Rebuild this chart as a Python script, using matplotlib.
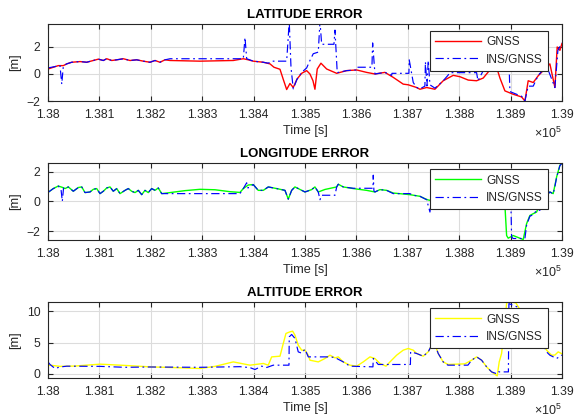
import matplotlib
matplotlib.use("Agg")
import matplotlib.pyplot as plt
from matplotlib.ticker import FuncFormatter, MultipleLocator

plt.rcParams['font.family'] = ['Liberation Sans', 'DejaVu Sans']

# ---------------- data (time in seconds, errors in metres) ----------------
t_lat_gnss = [138000.0, 138010.3, 138020.0, 138029.8, 138036.4, 138046.1, 138062.3, 138075.3,
              138088.1, 138097.9, 138107.6, 138114.2, 138123.9, 138133.7, 138146.5, 138159.5,
              138172.6, 138185.4, 138198.4, 138208.2, 138217.9, 138227.6, 138237.4, 138295.7,
              138360.5, 138380.0, 138389.7, 138399.4, 138418.9, 138431.9, 138439.7, 138451.4,
              138457.8, 138464.4, 138470.8, 138477.2, 138484.4, 138493.6, 138503.3, 138509.7,
              138515.6, 138519.4, 138523.9, 138531.1, 138542.2, 138561.7, 138581.1, 138600.5,
              138619.9, 138636.2, 138655.6, 138671.8, 138691.2, 138701.0, 138717.3, 138723.7,
              138736.8, 138752.9, 138769.0, 138788.5, 138801.5, 138817.7, 138834.0, 138846.9,
              138859.9, 138872.9, 138879.4, 138889.1, 138905.2, 138921.6, 138928.0, 138934.4,
              138944.2, 138953.9, 138963.6, 138976.6, 138986.4, 138990.8, 138996.1, 139000.0]
lat_gnss = [0.37, 0.5, 0.62, 0.62, 0.75, 0.87, 0.92, 0.87, 1.0, 1.1, 1.0, 1.13, 1.0, 1.05, 1.13, 1.0,
            1.05, 0.95, 0.87, 1.0, 0.87, 1.05, 1.0, 0.95, 1.0, 1.13, 1.05, 0.95, 0.87, 0.75, 0.5, 0.35,
            -0.4, -1.15, -0.7, -1.0, -0.38, 0.05, 0.25, 0.0, -0.5, -1.13, 0.37, 0.8, 0.37, 0.05,
            0.25, 0.3, 0.12, 0.0, 0.12, -0.25, -0.75, -0.8, -1.0, -1.13, -1.0, -1.13, -0.5, -0.1,
            -0.2, -0.45, -0.5, -0.3, 0.3, 0.5, -0.3, -1.25, -1.5, -1.7, -2.0, -0.5, -0.63, -0.13,
            0.25, 0.75, -1.0, 2.0, 1.75, 2.25]

t_lat_ins = [138000.0, 138013.6, 138023.3, 138026.7, 138029.8, 138036.4, 138046.1, 138062.3,
             138075.3, 138088.1, 138097.9, 138107.6, 138114.2, 138123.9, 138133.7, 138146.5,
             138159.5, 138172.6, 138185.4, 138198.4, 138208.2, 138217.9, 138227.6, 138237.4,
             138380.0, 138383.3, 138386.6, 138399.4, 138418.9, 138428.6, 138435.2, 138464.4,
             138469.4, 138472.8, 138477.2, 138484.4, 138493.6, 138503.3, 138509.7, 138516.1,
             138525.9, 138529.2, 138532.5, 138556.4, 138558.4, 138562.8, 138581.1, 138599.2,
             138600.5, 138630.3, 138631.7, 138636.2, 138655.6, 138668.7, 138669.3, 138702.3,
             138702.9, 138710.7, 138717.3, 138723.7, 138733.4, 138734.4, 138737.4, 138739.9,
             138743.2, 138752.9, 138769.0, 138778.2, 138782.1, 138834.0, 138836.6, 138846.3,
             138856.0, 138896.9, 138898.8, 138905.2, 138921.6, 138928.0, 138934.4, 138944.2,
             138953.9, 138970.2, 138986.4, 138992.2, 139000.0]
lat_ins = [0.45, 0.55, 0.62, -0.75, 0.6, 0.75, 0.87, 0.92, 0.87, 1.0, 1.1, 1.0, 1.13, 1.0, 1.05,
           1.13, 1.0, 1.05, 0.95, 0.87, 1.0, 0.87, 1.05, 1.13, 1.13, 2.7, 1.13, 0.95, 0.87, 0.8,
           0.95, 0.95, 3.9, 0.5, -1.1, -0.4, 0.12, 0.45, 1.0, 1.5, 1.62, 3.9, 2.2, 2.2, 3.25, 0.1,
           0.25, 0.3, 0.5, 0.5, 2.3, 0.0, 0.12, -0.1, 0.05, 0.05, 1.05, -0.63, -1.0, -1.1, -0.9,
           0.9, -0.88, 1.0, -0.8, -1.05, -0.5, -0.1, 0.1, 0.1, -0.5, 0.2, 1.0, 1.0, -1.3, -1.4,
           -1.65, -2.0, -0.9, -0.9, -0.1, 0.6, -1.0, 1.75, 2.3]

t_lon_gnss = [138000.0, 138010.3, 138020.0, 138027.2, 138033.1, 138039.5, 138049.2, 138058.9,
              138065.6, 138072.0, 138081.7, 138088.1, 138094.7, 138101.2, 138107.6, 138114.2,
              138120.6, 138127.0, 138133.7, 138140.1, 138149.8, 138156.2, 138162.8, 138169.3,
              138175.7, 138182.3, 138188.7, 138195.1, 138201.7, 138208.2, 138214.6, 138221.2,
              138230.9, 138266.5, 138295.7, 138324.9, 138354.1, 138373.5, 138380.0, 138389.7,
              138399.4, 138409.1, 138418.9, 138428.6, 138444.9, 138461.1, 138467.5, 138474.1,
              138480.5, 138486.9, 138500.0, 138513.0, 138519.4, 138525.9, 138538.9, 138561.7,
              138564.8, 138574.5, 138593.9, 138619.9, 138636.2, 138645.9, 138658.9, 138671.8,
              138704.3, 138723.7, 138733.4, 138739.3, 138752.9, 138801.5, 138859.9, 138889.1,
              138892.4, 138895.5, 138905.2, 138924.7, 138931.3, 138937.7, 138944.2, 138950.8,
              138957.2, 138963.6, 138976.6, 138983.0, 138986.4, 138989.7, 138996.1, 139000.0]
lon_gnss = [0.6, 0.86, 1.03, 0.95, 0.86, 0.97, 0.68, 0.93, 0.97, 0.59, 0.63, 0.81, 0.86, 0.52, 0.68,
            0.9, 0.97, 0.68, 0.86, 0.52, 0.74, 0.86, 0.68, 0.59, 0.74, 0.45, 0.74, 0.59, 0.86, 0.74,
            0.9, 0.52, 0.56, 0.72, 0.81, 0.78, 0.65, 0.6, 0.86, 1.1, 1.13, 0.74, 0.74, 0.97, 0.86,
            0.74, 0.15, 0.74, 0.97, 0.86, 0.63, 0.79, 0.97, 0.63, 0.8, 0.97, 1.15, 0.97, 0.86, 0.74,
            0.63, 0.79, 0.74, 0.56, 0.45, 0.34, 0.18, 0.1, 0.0, -0.1, -0.2, -0.27, -2.3, -2.48,
            -2.3, -2.57, -1.5, -0.95, -0.83, -0.72, -0.16, 0.18, 0.63, 0.52, 1.08, 1.64, 2.43, 2.55]

t_lon_ins = [138000.0, 138010.3, 138020.0, 138025.3, 138027.8, 138030.2, 138033.1, 138039.5,
             138049.2, 138058.9, 138065.6, 138072.0, 138081.7, 138088.1, 138094.7, 138101.2,
             138107.6, 138114.2, 138120.6, 138127.0, 138133.7, 138140.1, 138149.8, 138156.2,
             138162.8, 138169.3, 138175.7, 138182.3, 138188.7, 138195.1, 138201.7, 138208.2,
             138214.6, 138221.2, 138230.9, 138373.5, 138380.0, 138386.6, 138389.1, 138399.4,
             138409.1, 138418.9, 138428.6, 138444.9, 138461.1, 138467.5, 138474.1, 138480.5,
             138486.9, 138500.0, 138513.0, 138519.4, 138525.9, 138529.2, 138532.5, 138558.4,
             138561.7, 138564.8, 138574.5, 138593.9, 138632.3, 138632.9, 138634.2, 138636.2,
             138645.9, 138658.9, 138671.8, 138704.3, 138710.7, 138723.7, 138736.8, 138743.2,
             138745.1, 138801.5, 138900.8, 138902.1, 138905.2, 138928.0, 138931.3, 138937.7,
             138944.2, 138950.8, 138957.2, 138959.1, 138963.6, 138976.6, 138983.0, 138986.4,
             138989.7, 138996.1, 139000.0]
lon_ins = [0.6, 0.86, 1.03, 0.8, 0.0, 0.9, 0.86, 0.97, 0.68, 0.93, 0.97, 0.59, 0.63, 0.81, 0.86,
           0.52, 0.68, 0.9, 0.97, 0.68, 0.86, 0.52, 0.74, 0.86, 0.68, 0.59, 0.74, 0.45, 0.74, 0.59,
           0.86, 0.74, 0.9, 0.52, 0.52, 0.52, 0.86, 1.25, 0.9, 1.13, 0.74, 0.74, 0.97, 0.86, 0.74,
           0.15, 0.74, 0.97, 0.86, 0.63, 0.79, 0.97, 0.63, 0.11, 0.41, 0.41, 0.97, 1.15, 0.97,
           0.88, 0.88, 1.76, 0.7, 0.63, 0.79, 0.74, 0.52, 0.52, 0.41, 0.34, 0.11, -0.72, -0.2,
           -0.15, -0.27, -2.4, -2.5, -2.5, -1.6, -1.0, -0.9, -0.6, -0.6, -0.16, 0.18, 0.63, 0.5,
           1.0, 1.6, 2.4, 2.55]

t_alt_gnss = [138000.0, 138003.9, 138023.3, 138052.5, 138101.2, 138149.8, 138198.4, 138247.1,
              138295.7, 138324.9, 138360.5, 138393.0, 138418.9, 138428.6, 138435.2, 138451.4,
              138457.8, 138463.0, 138470.8, 138476.1, 138480.5, 138486.9, 138493.6, 138500.0,
              138506.4, 138509.7, 138525.9, 138538.9, 138548.6, 138558.4, 138564.8, 138574.5,
              138587.5, 138600.5, 138613.4, 138626.5, 138636.2, 138645.9, 138657.6, 138665.4,
              138678.4, 138691.2, 138701.0, 138710.7, 138717.3, 138730.1, 138739.9, 138746.5,
              138752.9, 138759.3, 138769.0, 138778.8, 138811.2, 138824.3, 138834.0, 138843.8,
              138853.5, 138863.2, 138874.1, 138878.0, 138882.6, 138889.1, 138892.4, 138898.8,
              138910.5, 138915.0, 138928.0, 138947.5, 138963.6, 138970.2, 138979.9, 138986.4,
              138992.8, 139000.0]
alt_gnss = [1.3, 1.39, 1.2, 1.25, 1.55, 1.35, 1.12, 1.0, 0.86, 1.2, 1.91, 1.39, 1.66, 1.39, 2.71,
            2.82, 4.85, 6.44, 6.7, 6.8, 6.17, 4.58, 3.78, 3.78, 2.98, 2.18, 1.91, 2.45, 2.98, 2.55,
            2.71, 1.91, 1.39, 1.23, 1.91, 2.71, 2.45, 1.66, 1.23, 1.91, 2.98, 3.78, 4.05, 3.78,
            3.25, 2.82, 3.51, 4.58, 4.7, 3.25, 1.91, 1.5, 1.6, 2.18, 2.71, 2.18, 1.12, 0.32, -0.32,
            1.91, 3.25, 8.0, 11.3, 11.5, 11.3, 10.7, 9.0, 7.0, 4.8, 3.78, 2.98, 3.0, 3.51, 3.2]

t_alt_ins = [138000.0, 138003.9, 138013.6, 138023.3, 138036.4, 138101.2, 138149.8, 138198.4,
             138295.7, 138373.5, 138393.0, 138402.7, 138415.7, 138425.5, 138438.3, 138468.9,
             138469.4, 138474.1, 138480.5, 138486.9, 138493.6, 138500.0, 138506.4, 138548.6,
             138558.4, 138574.5, 138587.5, 138632.3, 138632.9, 138642.6, 138705.2, 138705.6,
             138717.3, 138730.1, 138739.9, 138746.5, 138752.9, 138759.3, 138769.0, 138778.2,
             138817.1, 138824.3, 138834.0, 138843.8, 138853.5, 138863.2, 138874.1, 138876.4,
             138895.9, 138896.9, 138902.7, 138918.3, 138947.5, 138963.6, 138970.2, 138976.6,
             138989.7, 138996.1, 139000.0]
alt_ins = [1.91, 1.5, 0.86, 1.1, 1.23, 1.2, 1.05, 1.1, 1.05, 1.15, 1.0, 0.7, 1.23, 1.02, 1.39,
           1.39, 5.9, 6.28, 5.65, 3.51, 3.3, 3.94, 2.71, 2.71, 2.6, 1.91, 1.23, 1.12, 2.45, 1.5,
           1.5, 3.51, 3.25, 2.82, 3.51, 4.58, 4.7, 3.25, 1.91, 1.39, 1.39, 2.18, 2.71, 2.18, 1.12,
           0.32, 0.0, 0.32, 0.32, 11.2, 11.0, 10.5, 7.0, 4.7, 3.5, 2.98, 2.45, 2.8, 3.0]

panels = [
    ("LATITUDE ERROR", t_lat_gnss, lat_gnss, t_lat_ins, lat_ins, '#ff0000', (-2.0, 3.7), [-2, 0, 2]),
    ("LONGITUDE ERROR", t_lon_gnss, lon_gnss, t_lon_ins, lon_ins, '#00ff00', (-2.6, 2.6), [-2, 0, 2]),
    ("ALTITUDE ERROR", t_alt_gnss, alt_gnss, t_alt_ins, alt_ins, '#ffff00', (-0.7, 11.5), [0, 5, 10]),
]
axes_rects = [
    [0.0828, 0.7595, 0.886, 0.1833],
    [0.0828, 0.4286, 0.886, 0.1840],
    [0.0828, 0.0993, 0.886, 0.1824],
]
legend_anchor_y = [0.909, 0.915, 0.914]

dark = '#262626'
fig = plt.figure(figsize=(5.8, 4.2), dpi=100)

for (title, tg, yg, ti, yi, gcol, ylim, yticks), rect, ly in zip(panels, axes_rects, legend_anchor_y):
    ax = fig.add_axes(rect)
    ax.plot(tg, yg, color=gcol, lw=1.0, label='GNSS')
    ax.plot(ti, yi, color='#0000ff', lw=0.85, linestyle=(0, (7, 3, 1.5, 3)), label='INS/GNSS')
    ax.set_xlim(138000, 139000)
    ax.set_ylim(*ylim)
    ax.set_yticks(yticks)
    ax.xaxis.set_major_locator(MultipleLocator(100))
    ax.xaxis.set_major_formatter(FuncFormatter(lambda v, p: f"{v / 1e5:g}"))
    ax.grid(True, color='#dcdcdc', lw=0.8)
    ax.set_axisbelow(True)
    ax.tick_params(direction='in', top=True, right=True, length=3.5, width=0.8,
                   colors=dark, labelsize=8.8, pad=5.5)
    for s in ax.spines.values():
        s.set_color(dark)
        s.set_linewidth(0.8)
    ax.set_title(title, fontsize=9.5, fontweight='bold', pad=4)
    ax.set_xlabel('Time [s]', fontsize=9.2, color=dark, labelpad=3)
    ax.set_ylabel('[m]', fontsize=9.2, color=dark, labelpad=4)
    ax.text(1.0, -0.42, r'$\mathregular{\times 10^{5}}$', transform=ax.transAxes,
            ha='right', va='center', fontsize=9, color=dark)
    leg = ax.legend(loc='upper right', bbox_to_anchor=(0.9733, ly), bbox_transform=ax.transAxes,
                    borderaxespad=0, fontsize=8.6, handlelength=3.85, handletextpad=0.4,
                    borderpad=0.45, labelspacing=0.43, fancybox=False, framealpha=1,
                    edgecolor=dark)
    leg.get_frame().set_linewidth(0.8)
    for txt in leg.get_texts():
        txt.set_color(dark)

fig.savefig('out.png', dpi=100)
